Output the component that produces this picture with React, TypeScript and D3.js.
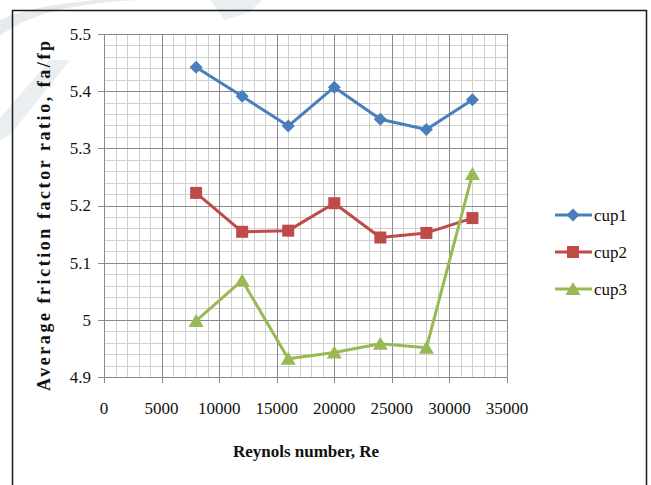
import * as d3 from "d3";

const reynolds = [8000, 12000, 16000, 20000, 24000, 28000, 32000];
const cup1 = [5.442, 5.391, 5.339, 5.407, 5.351, 5.333, 5.385];
const cup2 = [5.222, 5.154, 5.156, 5.204, 5.144, 5.152, 5.178];
const cup3 = [4.998, 5.069, 4.932, 4.943, 4.958, 4.951, 5.255];

const seriesNames = ["cup1", "cup2", "cup3"];
const seriesColors = ["#4a7ebb", "#be4b48", "#98b954"];
const xTicks = [0, 5000, 10000, 15000, 20000, 25000, 30000, 35000];
const yTicks = [4.9, 5, 5.1, 5.2, 5.3, 5.4, 5.5];

const W = 651;
const H = 485;
const plot = { left: 104, right: 507, top: 34, bottom: 377 };
const font = "'Liberation Serif', 'Times New Roman', serif";

// marker shapes, centred on 0,0
function markerPath(kind: number): string {
  if (kind === 0) return "M0,-6.5L6.5,0L0,6.5L-6.5,0Z";
  if (kind === 1) return "M-6,-6H6V6H-6Z";
  return "M0,-7L7.5,6H-7.5Z";
}

export default function App() {
  const x = d3.scaleLinear().domain([0, 35000]).range([plot.left, plot.right]);
  const y = d3.scaleLinear().domain([4.9, 5.5]).range([plot.bottom, plot.top]);

  const minorX = d3.range(0, 35001, 1000).filter((v) => v % 5000 !== 0);
  const minorY = d3.range(0, 31).map((i) => 4.9 + i * 0.02).filter((_, i) => i % 5 !== 0);

  const line = d3
    .line<[number, number]>()
    .x((d) => x(d[0]))
    .y((d) => y(d[1]));

  const allSeries = [cup1, cup2, cup3];
  const crisp = (v: number) => Math.round(v) + 0.5;

  return (
    <svg
      width={W}
      height={H}
      style={{ position: "absolute", left: 0, top: 0, background: "#fff" }}
    >
      {/* faint watermark in the background */}
      <g fill="#e4eaee">
        <path d="M0,36 Q40,4 140,0 L96,0 Q30,6 0,20 Z" />
        <path d="M210,0 L262,0 L250,12 L225,20 Z" opacity={0.8} />
        <path d="M50,60 L70,60 L10,135 L0,140 L0,118 Z" opacity={0.8} />
      </g>
      <rect x={12.5} y={10.5} width={634} height={490} fill="none" stroke="#1a1a1a" strokeWidth={1.5} />

      {/* minor grid */}
      <g stroke="#cfcfcf" strokeWidth={1}>
        {minorX.map((v) => (
          <line key={"mx" + v} x1={crisp(x(v))} x2={crisp(x(v))} y1={plot.top} y2={plot.bottom} />
        ))}
        {minorY.map((v) => (
          <line key={"my" + v} x1={plot.left} x2={plot.right} y1={crisp(y(v))} y2={crisp(y(v))} />
        ))}
      </g>
      {/* major grid with ticks */}
      <g stroke="#8a8a8a" strokeWidth={1}>
        {xTicks.map((v) => (
          <line key={"gx" + v} x1={crisp(x(v))} x2={crisp(x(v))} y1={plot.top} y2={plot.bottom + 6} />
        ))}
        {yTicks.map((v) => (
          <line key={"gy" + v} x1={plot.left - 6} x2={plot.right} y1={crisp(y(v))} y2={crisp(y(v))} />
        ))}
      </g>

      <g fontFamily={font} fontSize={17} fill="#111">
        {yTicks.map((v) => (
          <text key={"ty" + v} x={91} y={y(v)} dy="0.35em" textAnchor="end">
            {d3.format("~g")(v)}
          </text>
        ))}
        {xTicks.map((v) => (
          <text key={"tx" + v} x={x(v)} y={414} textAnchor="middle">
            {v}
          </text>
        ))}
        <text x={306} y={457} textAnchor="middle" fontWeight="bold">
          Reynols number, Re
        </text>
        <text
          transform="translate(50,216) rotate(-90)"
          textAnchor="middle"
          fontWeight="bold"
          fontSize={18}
          textLength={350}
          lengthAdjust="spacing"
        >
          Average friction factor ratio, fa/fp
        </text>
      </g>

      {allSeries.map((vals, si) => {
        const pts = reynolds.map((r, i) => [r, vals[i]] as [number, number]);
        return (
          <g key={seriesNames[si]}>
            <path d={line(pts) || ""} fill="none" stroke={seriesColors[si]} strokeWidth={3} strokeLinejoin="round" />
            {pts.map((p, i) => (
              <path
                key={i}
                d={markerPath(si)}
                transform={`translate(${x(p[0])},${y(p[1])})`}
                fill={seriesColors[si]}
              />
            ))}
          </g>
        );
      })}

      {/* legend */}
      {seriesNames.map((name, i) => {
        const ly = 215 + i * 37;
        return (
          <g key={"lg" + name}>
            <line x1={555} x2={592} y1={ly} y2={ly} stroke={seriesColors[i]} strokeWidth={3} />
            <path d={markerPath(i)} transform={`translate(573,${ly})`} fill={seriesColors[i]} />
            <text x={594} y={ly} dy="0.35em" fontFamily={font} fontSize={17} fill="#111">
              {name}
            </text>
          </g>
        );
      })}
    </svg>
  );
}
